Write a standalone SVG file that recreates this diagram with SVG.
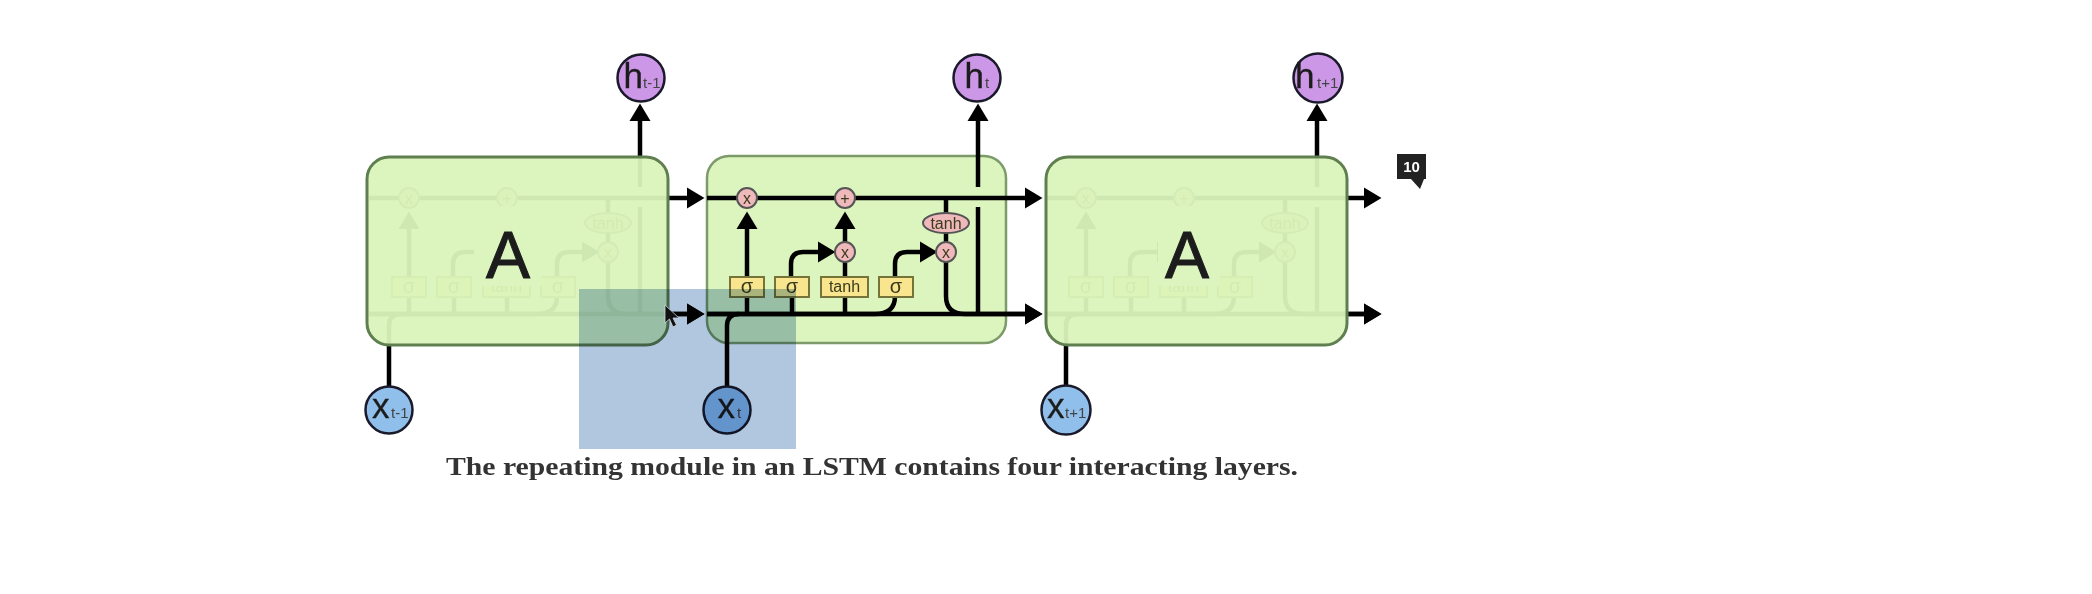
<svg xmlns="http://www.w3.org/2000/svg" width="2092" height="594" viewBox="0 0 2092 594">
<style>
text{font-family:"Liberation Sans",Arial,sans-serif;text-anchor:middle;fill:#1c1c1c}
.w{fill:none;stroke:#000;stroke-width:4.500}
.a{marker-end:url(#arrow)}
.op{fill:#efb8bb;stroke:#555;stroke-width:2}
.y{fill:#f8e58e;stroke:#77743a;stroke-width:2}
.t{font-size:16px;fill:#3a3a1c}
.s{font-size:20px;fill:#3a3a1c}
.cell{fill:#daf4bb;stroke:#607f50;stroke-width:3}
.hc{fill:#cd97e8;stroke:#1a1a2a;stroke-width:2.500}
.xc{fill:#8fbfea;stroke:#1a1a2a;stroke-width:2.500}
.big{font-size:35px;text-anchor:start;stroke:#1c1c1c;stroke-width:0.300}
.sub{font-size:15px;text-anchor:start;fill:#444}
.A{font-size:66px;stroke:#1c1c1c;stroke-width:1}
.patch{fill:#dcf5be}
</style>
<defs>
<marker id="arrow" markerUnits="userSpaceOnUse" markerWidth="18" markerHeight="24" viewBox="0 0 18 24" refX="0" refY="12" orient="auto"><path d="M0 1.500L17.500 12L0 22.500z" fill="#000"/></marker>
</defs>
<rect width="2092" height="594" fill="#fff"/>
<g id="node-cell-t"><rect x="707" y="156" width="299" height="187" rx="22" fill="#dcf5be" stroke="#7d9a6a" stroke-width="2.500"/></g>
<g id="connectors">
<g id="wires">
<path class="w a" d="M707 198H1025"/>
<path class="w a" d="M707 314H1025"/>
<path class="w" d="M707 314H875Q895 314 895 296"/>
<path class="w" d="M727 388V326Q727 314 739 314"/>
<path class="w a" d="M747 314V229"/>
<path class="w" d="M792 314V296"/>
<path class="w a" d="M791 278V264Q791 252 803 252H818"/>
<path class="w" d="M845 314V262"/>
<path class="w a" d="M845 242V229"/>
<path class="w a" d="M895 278V264Q895 252 907 252H920"/>
<path class="w" d="M946 198V242"/>
<path class="w a" d="M946 262V296Q946 314 965 314H1025"/>
<path class="w" d="M978 314V207"/>
<path class="w a" d="M978 187V121"/>
</g>
<use href="#wires" transform="translate(-338 0)"/>
<use href="#wires" transform="translate(339 0)"/>
</g>
<g id="ops">
<g id="op-mul-1"><circle class="op" cx="747" cy="198" r="10"/><text class="t" x="747" y="204">x</text></g>
<g id="op-add"><circle class="op" cx="845" cy="198" r="10"/><text class="t" x="845" y="204">+</text></g>
<g id="op-mul-2"><circle class="op" cx="845" cy="252" r="10"/><text class="t" x="845" y="258">x</text></g>
<g id="op-mul-3"><circle class="op" cx="946" cy="252" r="10"/><text class="t" x="946" y="258">x</text></g>
<g id="op-tanh-out"><ellipse class="op" cx="946" cy="223" rx="23" ry="10"/><text class="t" x="946" y="229">tanh</text></g>
<g id="layer-sigma-1"><rect class="y" x="730" y="277" width="34" height="20"/><text class="s" x="747" y="293">σ</text></g>
<g id="layer-sigma-2"><rect class="y" x="775" y="277" width="34" height="20"/><text class="s" x="792" y="293">σ</text></g>
<g id="layer-tanh"><rect class="y" x="821" y="277" width="47" height="20"/><text class="t" x="844.500" y="292">tanh</text></g>
<g id="layer-sigma-3"><rect class="y" x="879" y="277" width="34" height="20"/><text class="s" x="896" y="293">σ</text></g>
</g>
<use href="#ops" transform="translate(-338 0)"/>
<use href="#ops" transform="translate(339 0)"/>
<g id="node-a-left"><rect class="cell" x="367" y="157" width="301" height="188" rx="22" fill-opacity="0.950"/><rect class="patch" x="474" y="206" width="68" height="80"/><text class="A" x="508" y="278">A</text></g>
<g id="node-a-right"><rect class="cell" x="1046" y="157" width="301" height="188" rx="22" fill-opacity="0.950"/><rect class="patch" x="1158" y="206" width="62" height="80"/><text class="A" x="1187" y="278">A</text></g>
<g id="node-h-prev"><circle class="hc" cx="641" cy="78" r="23.500"/><text class="big" x="623.500" y="88">h</text><text class="sub" x="643" y="88">t-1</text></g>
<g id="node-h-cur"><circle class="hc" cx="977" cy="78" r="23.500"/><text class="big" x="964.500" y="88">h</text><text class="sub" x="985" y="88">t</text></g>
<g id="node-h-next"><circle class="hc" cx="1318" cy="78" r="24.500"/><text class="big" x="1295" y="88">h</text><text class="sub" x="1317" y="88">t+1</text></g>
<g id="node-x-prev"><circle class="xc" cx="389" cy="410" r="23.500"/><text class="big" x="372" y="418">x</text><text class="sub" x="391" y="418">t-1</text></g>
<g id="node-x-cur"><circle class="xc" cx="727" cy="410" r="23.500"/><text class="big" x="717.500" y="418">x</text><text class="sub" x="737" y="418">t</text></g>
<g id="node-x-next"><circle class="xc" cx="1066" cy="410" r="24.500"/><text class="big" x="1047" y="418">x</text><text class="sub" x="1065" y="418">t+1</text></g>
<rect id="selection" x="579" y="289" width="217" height="160" fill="#b0c7df" style="mix-blend-mode:multiply"/>
<path id="cursor" d="M665 305V323L669.500 319L673 327L676.500 325L673 318H679z" fill="#111" stroke="#cfd6de" stroke-width="0.800"/>
<g id="badge"><path d="M1397 154H1426V179H1424L1420 189L1411 179H1397z" fill="#222"/><text x="1411.500" y="172" style="font-size:15px;font-weight:700;fill:#fff">10</text></g>
<text id="caption" x="872" y="475" textLength="852" lengthAdjust="spacingAndGlyphs" style="font-family:'Liberation Serif','DejaVu Serif',serif;font-size:25px;font-weight:700;fill:#333">The repeating module in an LSTM contains four interacting layers.</text>
</svg>
